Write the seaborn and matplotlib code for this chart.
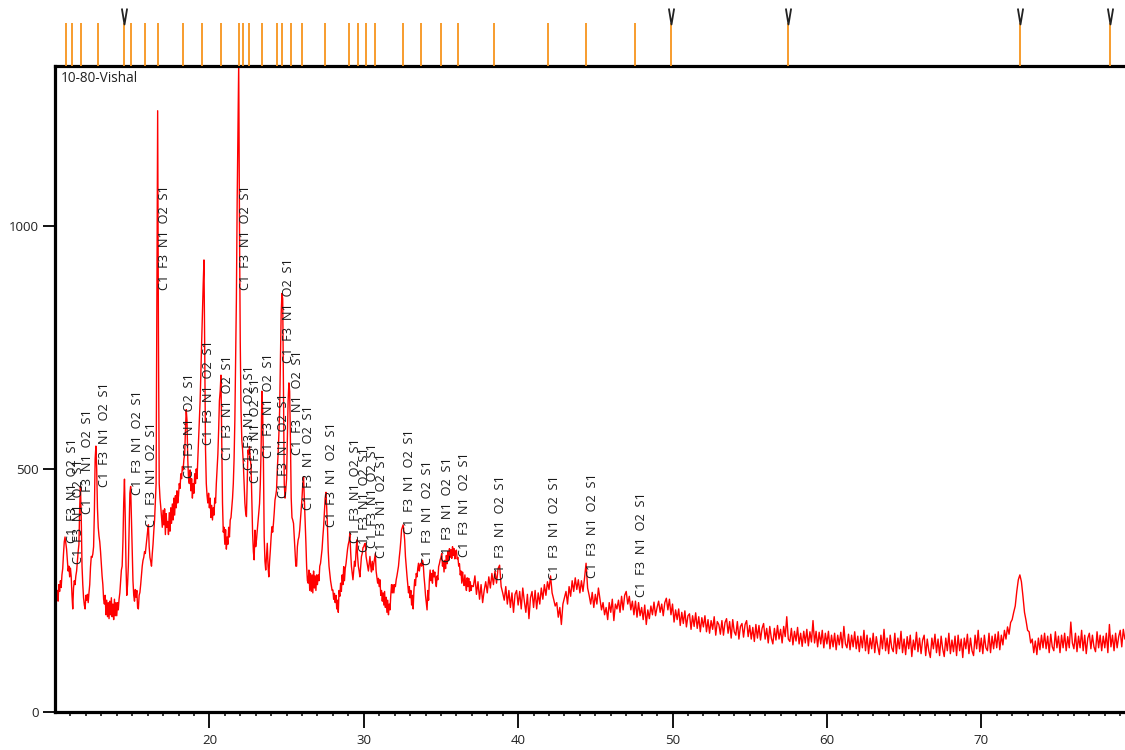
import numpy as np
import pandas as pd
import matplotlib
matplotlib.use("Agg")
import matplotlib.pyplot as plt
from matplotlib.path import Path
from matplotlib.ticker import MultipleLocator, FixedLocator
import seaborn as sns

# ---- step scan, part 1: 10.00-37.00 deg 2theta, 0.05 deg step ----
scan1_start = 10.0
scan1_step = 0.05
scan1_counts = [
    232, 258, 240, 250, 228, 262, 248, 270, 256, 282, 295, 325, 350, 360, 348, 335, 312, 290, 300, 278,
    296, 278, 240, 212, 255, 270, 262, 280, 290, 310, 330, 345, 420, 465, 400, 300, 262, 235, 220, 212,
    240, 230, 242, 225, 245, 262, 298, 320, 318, 325, 340, 410, 520, 547, 500, 420, 380, 362, 350, 330,
    305, 280, 262, 232, 222, 240, 200, 230, 196, 225, 192, 228, 200, 235, 196, 222, 190, 232, 198, 225,
    198, 225, 210, 232, 245, 270, 292, 300, 350, 430, 479, 400, 300, 240, 262, 300, 380, 450, 464, 400,
    330, 270, 240, 228, 252, 236, 250, 215, 212, 240, 246, 262, 282, 300, 312, 318, 330, 326, 342, 360,
    372, 385, 340, 318, 310, 300, 325, 345, 372, 395, 430, 470, 850, 1237, 780, 470, 440, 422, 400, 380,
    415, 385, 418, 365, 408, 380, 392, 365, 410, 372, 420, 388, 428, 395, 440, 405, 445, 420, 455, 430,
    445, 470, 460, 490, 480, 505, 498, 520, 530, 580, 622, 600, 520, 480, 470, 498, 455, 480, 440, 470,
    450, 490, 470, 500, 480, 520, 560, 600, 640, 700, 760, 820, 880, 930, 720, 540, 470, 445, 430, 450,
    420, 440, 400, 425, 395, 420, 405, 440, 430, 470, 500, 530, 580, 640, 660, 693, 560, 430, 370, 380,
    345, 375, 335, 360, 345, 380, 360, 395, 400, 420, 440, 470, 520, 600, 720, 850, 1050, 1200, 1335, 1000,
    760, 620, 560, 540, 510, 470, 430, 410, 402, 470, 539, 530, 546, 520, 505, 440, 368, 330, 313, 374,
    340, 354, 372, 388, 410, 429, 470, 540, 660, 620, 520, 360, 310, 292, 320, 347, 300, 278, 310, 333,
    360, 381, 370, 388, 410, 436, 445, 457, 500, 530, 570, 620, 720, 820, 861, 850, 650, 470, 440, 457,
    480, 560, 640, 677, 660, 560, 440, 400, 395, 388, 360, 330, 300, 300, 340, 354, 360, 374, 395, 416,
    440, 470, 484, 440, 395, 350, 299, 270, 265, 292, 250, 285, 248, 282, 245, 290, 255, 280, 250, 282,
    262, 282, 270, 300, 306, 320, 335, 360, 381, 410, 440, 452, 420, 380, 330, 300, 285, 270, 260, 250,
    251, 232, 244, 225, 240, 212, 230, 205, 250, 238, 265, 248, 282, 262, 299, 270, 295, 305, 320, 335,
    345, 352, 368, 330, 300, 285, 272, 290, 310, 300, 330, 354, 320, 300, 290, 278, 300, 320, 326, 338,
    340, 345, 347, 320, 310, 299, 290, 305, 320, 300, 288, 310, 292, 305, 315, 326, 290, 278, 265, 275,
    258, 272, 240, 250, 228, 245, 220, 248, 215, 236, 205, 230, 200, 222, 210, 240, 262, 245, 262, 245,
    262, 258, 272, 280, 290, 300, 318, 333, 352, 375, 380, 385, 372, 354, 320, 299, 280, 262, 245, 258,
    235, 250, 220, 240, 212, 250, 272, 260, 285, 278, 296, 306, 290, 302, 306, 300, 312, 306, 280, 262,
    240, 225, 210, 250, 230, 272, 292, 270, 285, 265, 292, 278, 288, 270, 258, 280, 272, 299, 305, 313,
    318, 326, 300, 310, 288, 312, 295, 322, 305, 330, 312, 336, 318, 334, 316, 340, 322, 336, 315, 330,
    333, 315, 318, 300, 305, 282, 290, 265, 288, 270, 260, 282, 262, 250, 276, 258, 275, 248, 268, 250,
    260,
]

# ---- step scan, part 2: 37.1-79.3 deg 2theta, 0.1 deg step ----
scan2_start = 37.1
scan2_step = 0.1
scan2_counts = [
    258, 280, 242, 268, 232, 262, 225, 250, 268, 245,
    278, 255, 285, 262, 290, 265, 295, 302, 258, 245,
    230, 258, 222, 250, 215, 245, 205, 242, 250, 220,
    248, 212, 255, 228, 205, 242, 192, 235, 248, 215,
    250, 212, 245, 222, 255, 232, 262, 240, 268, 252,
    280, 245, 232, 218, 225, 195, 215, 180, 222, 235,
    248, 222, 258, 238, 270, 248, 276, 252, 272, 245,
    270, 248, 275, 306, 255, 240, 222, 246, 215, 242,
    222, 255, 232, 210, 225, 200, 215, 190, 225, 205,
    232, 188, 222, 212, 230, 205, 238, 210, 240, 248,
    222, 238, 210, 228, 200, 228, 195, 225, 198, 215,
    190, 220, 180, 210, 192, 218, 200, 226, 198, 215,
    228, 205, 222, 198, 225, 234, 210, 232, 200, 222,
    185, 210, 190, 212, 178, 205, 182, 208, 175, 198,
    202, 170, 198, 176, 204, 172, 196, 165, 194, 175,
    198, 165, 190, 162, 188, 170, 196, 158, 186, 180,
    160, 188, 158, 184, 192, 162, 186, 152, 190, 165,
    158, 186, 150, 176, 182, 154, 180, 188, 155, 178,
    150, 174, 145, 180, 152, 178, 148, 172, 182, 150,
    172, 142, 176, 152, 140, 172, 148, 178, 150, 170,
    142, 176, 155, 196, 150, 145, 172, 138, 166, 146,
    174, 140, 162, 135, 166, 142, 170, 136, 165, 144,
    188, 142, 166, 134, 164, 140, 168, 132, 162, 140,
    166, 130, 158, 134, 162, 128, 158, 138, 164, 132,
    176, 140, 132, 160, 128, 158, 134, 165, 130, 156,
    124, 156, 132, 168, 126, 158, 120, 152, 130, 162,
    122, 155, 134, 118, 158, 130, 170, 126, 152, 120,
    158, 132, 124, 162, 120, 152, 130, 166, 122, 150,
    118, 155, 130, 158, 114, 148, 128, 164, 124, 152,
    120, 148, 158, 116, 150, 126, 112, 152, 130, 160,
    122, 150, 116, 156, 130, 114, 152, 126, 162, 120,
    148, 124, 156, 116, 158, 126, 150, 112, 152, 130,
    160, 120, 152, 126, 116, 158, 130, 168, 124, 152,
    120, 158, 132, 126, 162, 122, 156, 130, 160, 132,
    165, 128, 158, 138, 168, 150, 175, 160, 184, 190,
    205, 218, 248, 272, 282, 268, 238, 205, 188, 168,
    165, 142, 150, 122, 146, 118, 152, 128, 158, 132,
    162, 130, 156, 122, 160, 134, 126, 165, 132, 156,
    122, 158, 132, 162, 126, 155, 132, 185, 142, 130,
    162, 124, 156, 132, 168, 126, 158, 120, 152, 162,
    130, 158, 134, 124, 165, 132, 158, 126, 156, 132,
    162, 122, 180, 134, 158, 126, 162, 132, 155, 168,
    134, 170, 150,
]

# ---- reference pattern sticks ----
phase_a_pos = [10.73, 11.07, 11.70, 12.80, 14.95, 15.81, 16.65, 18.26, 19.53, 20.74,
               21.94, 22.20, 22.59, 23.40, 24.35, 24.70, 25.27, 26.01, 27.52, 29.02,
               29.60, 30.16, 30.76, 32.54, 33.74, 35.03, 36.12, 38.41, 41.93, 44.42, 47.56]
phase_a_label_at = [348, 305, 407, 463, 447, 381, 868, 481, 549, 519,
                    868, 498, 471, 523, 440, 718, 529, 416, 381, 348,
                    329, 337, 317, 366, 302, 309, 319, 272, 272, 276, 237]
phase_a_label = "C1  F3  N1  O2  S1"
phase_b_pos = [14.49, 49.91, 57.47, 72.49, 78.34]

sample_name = "10-80-Vishal"
x_major = [20, 30, 40, 50, 60, 70]
y_major = [0, 500, 1000]

# ---- assemble the scan ----
tt1 = scan1_start + scan1_step * np.arange(len(scan1_counts))
tt2 = scan2_start + scan2_step * np.arange(len(scan2_counts))
scan = pd.DataFrame({
    "two_theta": np.round(np.concatenate([tt1, tt2]), 3),
    "counts": np.concatenate([scan1_counts, scan2_counts]),
})

sns.set_style("ticks")
plt.rcParams["font.family"] = ["Open Sans", "DejaVu Sans"]

fig = plt.figure(figsize=(11.25, 7.5), dpi=100)
ax = fig.add_axes([0.0493, 0.0507, 0.9507, 0.8613])
ax_ref = fig.add_axes([0.0493, 0.912, 0.9507, 0.088], sharex=ax)

sns.lineplot(data=scan, x="two_theta", y="counts", ax=ax, color="#ff0000",
             linewidth=1.0, estimator=None, sort=False)

ax.set_xlim(10.03, 79.31)
ax.set_ylim(0, 1329)
ax.set_xlabel("")
ax.set_ylabel("")
ax.xaxis.set_major_locator(FixedLocator(x_major))
ax.xaxis.set_minor_locator(MultipleLocator(1))
ax.yaxis.set_major_locator(FixedLocator(y_major))

for side in ("left", "bottom", "top"):
    ax.spines[side].set_linewidth(2.3)
    ax.spines[side].set_color("black")
ax.spines["right"].set_visible(False)

ax.tick_params(axis="x", which="major", length=11.5, width=1.3, pad=4,
               labelsize=9.5, colors="black", labelcolor="#222222")
ax.tick_params(axis="x", which="minor", length=3.2, width=1.1, colors="black")
ax.tick_params(axis="y", which="major", length=8.6, width=1.3, pad=3.5,
               labelsize=9.5, colors="black", labelcolor="#222222")

# peak assignments
for pos, h in zip(phase_a_pos, phase_a_label_at):
    ax.text(pos, h, phase_a_label, rotation=90, ha="left", va="bottom",
            fontsize=9.2, color="#1a1a1a")

ax.text(0.005, 0.992, sample_name, transform=ax.transAxes, ha="left", va="top",
        fontsize=9.8, color="#222222")

# reference stick panel above the plot
all_pos = sorted(phase_a_pos + phase_b_pos)
ax_ref.vlines(all_pos, 0, 0.652, color="#f7941d", linewidth=1.3)
v_mark = Path([(-0.33, 1.0), (0.0, -1.0), (0.33, 1.0)],
              [Path.MOVETO, Path.LINETO, Path.LINETO])
ax_ref.plot(phase_b_pos, [0.758] * len(phase_b_pos), linestyle="none",
            marker=v_mark, markersize=11.5, markeredgecolor="#222222",
            markerfacecolor="none", markeredgewidth=1.3)
ax_ref.set_ylim(0, 1)
ax_ref.axis("off")

fig.savefig("out.png", dpi=100)
